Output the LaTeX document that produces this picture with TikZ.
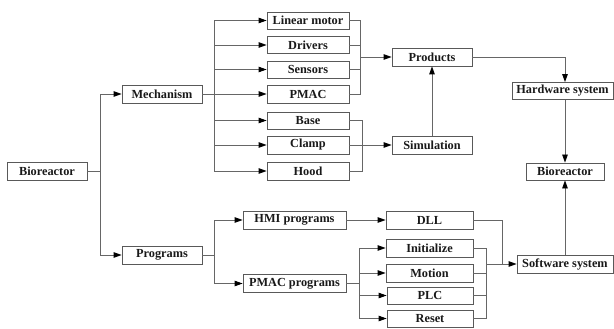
\documentclass[tikz,border=0pt]{standalone}
\usepackage{fontspec}
\setmainfont{Liberation Serif}
\usetikzlibrary{arrows.meta}
\begin{document}
\begin{tikzpicture}[x=1pt,y=-1pt,
  box/.style={draw=black!65, line width=0.8pt, fill=white, inner sep=0pt, minimum height=18pt,
    font=\fontsize{12.3}{14}\selectfont\bfseries, text=black!90},
  ln/.style={draw=black!60, line width=0.8pt},
  arr/.style={ln, -{Triangle[length=8pt,width=5.5pt,fill=black,color=black]}}]
\useasboundingbox (0,0) rectangle (614,329);
% nodes
\node[box, minimum width=80pt] (bio1) at (47,171) {Bioreactor};
\node[box, minimum width=80pt] (mech) at (162,94) {Mechanism};
\node[box, minimum width=80pt] (prog) at (162,255) {Programs};
\node[box, minimum width=82pt, minimum height=17pt] (lm) at (308,20.5) {Linear motor};
\node[box, minimum width=82pt, minimum height=17pt] (drv) at (308,45) {Drivers};
\node[box, minimum width=82pt, minimum height=17pt] (sen) at (308,69.5) {Sensors};
\node[box, minimum width=82pt] (pmac) at (308,94) {PMAC};
\node[box, minimum width=82pt, minimum height=17pt] (base) at (308,120.5) {Base};
\node[box, minimum width=82pt] (clamp) at (308,145) {Clamp};
\node[box, minimum width=82pt] (hood) at (308,171) {Hood};
\node[box, minimum width=80pt] (prod) at (432,57) {Products};
\node[box, minimum width=80pt] (sim) at (432,145) {Simulation};
\node[box, minimum width=101pt, minimum height=17pt] (hw) at (562.5,91) {Hardware system};
\node[box, minimum width=78pt, minimum height=17pt] (bio2) at (565,171.5) {Bioreactor};
\node[box, minimum width=103pt] (hmi) at (294.5,220) {HMI programs};
\node[box, minimum width=103pt] (pmacp) at (294.5,283.5) {PMAC programs};
\node[box, minimum width=87pt] (dll) at (429.5,220) {DLL};
\node[box, minimum width=87pt] (init) at (429.5,248) {Initialize};
\node[box, minimum width=87pt] (motion) at (429.5,273) {Motion};
\node[box, minimum width=86pt, minimum height=17pt] (plc) at (430,295.5) {PLC};
\node[box, minimum width=86pt, minimum height=17pt] (reset) at (430,318.5) {Reset};
\node[box, minimum width=96pt] (sw) at (565,264) {Software system};
% junctions
\coordinate (j1) at (100,171);
\coordinate (j2) at (214,94);
\coordinate (j3) at (360,57);
\coordinate (j4) at (362,145);
\coordinate (j5) at (214,255);
\coordinate (j6) at (359,283.5);
\coordinate (j7) at (486,264);
\coordinate (j8) at (502,264);
% connectors
\draw[ln] (bio1.east) -- (j1);
\draw[arr] (j1) |- (mech.west);
\draw[arr] (j1) |- (prog.west);
\draw[ln] (mech.east) -- (j2);
\foreach \n in {lm,drv,sen,pmac,base,clamp,hood} \draw[arr] (j2) |- (\n.west);
\foreach \n in {lm,drv,sen,pmac} \draw[ln] (\n.east) -| (j3);
\draw[arr] (j3) -- (prod.west);
\draw[ln] (base.east) -| (j4);
\draw[ln] (hood.east) -| (j4);
\draw[arr] (clamp.east) -- (sim.west);
\draw[arr] (sim.north) -- (prod.south);
\draw[arr] (prod.east) -| (bio2.north |- hw.north);
\draw[arr] (hw.south -| bio2.north) -- (bio2.north);
\draw[arr] (sw.north) -- (bio2.south);
\draw[ln] (prog.east) -- (j5);
\draw[arr] (j5) |- (hmi.west);
\draw[arr] (j5) |- (pmacp.west);
\draw[arr] (hmi.east) -- (dll.west);
\draw[ln] (pmacp.east) -- (j6);
\foreach \n in {init,motion,plc,reset} \draw[arr] (j6) |- (\n.west);
\foreach \n in {init,motion,plc,reset} \draw[ln] (\n.east) -| (j7);
\draw[ln] (dll.east) -| (j8);
\draw[arr] (j7) -- (sw.west);
\end{tikzpicture}
\end{document}
